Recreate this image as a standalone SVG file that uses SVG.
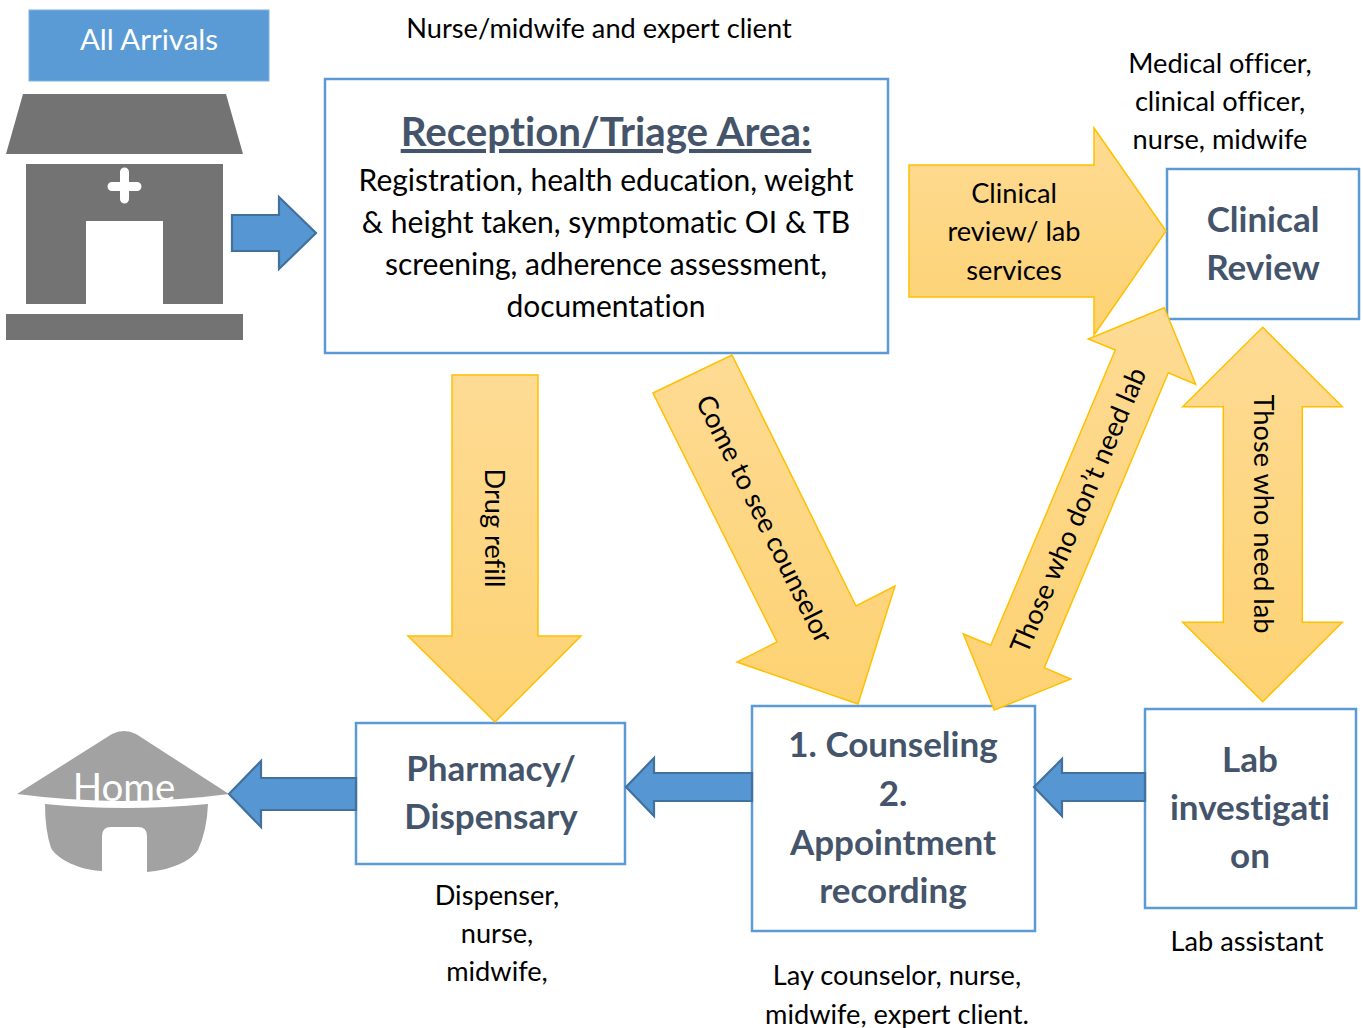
<svg xmlns="http://www.w3.org/2000/svg" width="1363" height="1028" viewBox="0 0 1363 1028">
<style>
text{font-family:"Lato","Liberation Sans",sans-serif;fill:#000;font-variant-ligatures:none}
.m{text-anchor:middle}
.lab{font-size:30px}
.cap{font-size:27.2px}
.h{font-size:35px;font-weight:700;fill:#44546a}
.box{fill:#fff;stroke:#5b9bd5;stroke-width:2.5}
.ya{fill:url(#yg);stroke:#ffc000;stroke-width:1.5}
.ba{fill:#5596d3;stroke:#41719c;stroke-width:2.2}
.g{fill:#737373}
</style>
<defs>
<linearGradient id="yg" x1="0" y1="0" x2="0" y2="1"><stop offset="0" stop-color="#fedb94"/><stop offset="1" stop-color="#fdd272"/></linearGradient>
</defs>
<g id="all-arrivals">
<rect x="29" y="10" width="240" height="71" fill="#5b9bd5" stroke="#7fb2e0" stroke-width="1"/>
<text class="m" x="149" y="50" font-size="29.500" style="fill:#fff">All Arrivals</text>
</g>
<g id="clinic">
<polygon class="g" points="23,94 226,94 243,154 6,154"/>
<path class="g" fill-rule="evenodd" d="M26,164H223V304H163V221H86V304H26Z"/>
<path d="M120,172a4.500,4.500 0 0 1 9,0V182H137a4.500,4.500 0 0 1 0,9H129V199a4.500,4.500 0 0 1 -9,0V191H112a4.500,4.500 0 0 1 0,-9H120Z" fill="#fff"/>
<rect class="g" x="6" y="314" width="237" height="26"/>
</g>
<g id="home">
<path d="M17,794L112,734Q124,728 136,734L229,794Q124,808 17,794Z" fill="#a2a2a2"/>
<path fill-rule="evenodd" d="M45,804Q124,812 208,804Q207,830 198,850C190,862 170,870 147,872V836Q147,827 138,827H111Q102,827 102,836V871C80,870 58,860 51,848Q45,830 45,804Z" fill="#a2a2a2"/>
<text class="m" x="124" y="801" font-size="38.500" style="fill:#fff">Home</text>
</g>
<g id="reception">
<rect class="box" x="325" y="79" width="563" height="274"/>
<text class="m" x="606" y="146" font-size="40.300" font-weight="700" text-decoration="underline" style="fill:#44546a">Reception/Triage Area:</text>
<text class="lab m" x="606" y="191">Registration, health education, weight</text>
<text class="lab m" x="606" y="233">&amp; height taken, symptomatic OI &amp; TB</text>
<text class="lab m" x="606" y="275">screening, adherence assessment,</text>
<text class="lab m" x="606" y="317">documentation</text>
</g>
<g id="clinical-review">
<rect class="box" x="1167" y="169" width="192" height="150"/>
<text class="h m" x="1263" y="232">Clinical</text>
<text class="h m" x="1263" y="280">Review</text>
</g>
<g id="pharmacy">
<rect class="box" x="356" y="723" width="269" height="141"/>
<text class="h m" x="491" y="781">Pharmacy/</text>
<text class="h m" x="491" y="829">Dispensary</text>
</g>
<g id="counseling">
<rect class="box" x="752" y="706" width="283" height="225"/>
<text class="h m" x="893" y="757">1. Counseling</text>
<text class="h m" x="893" y="806">2.</text>
<text class="h m" x="893" y="855">Appointment</text>
<text class="h m" x="893" y="903">recording</text>
</g>
<g id="lab">
<rect class="box" x="1145" y="709" width="211" height="199"/>
<text class="h m" x="1250" y="772">Lab</text>
<text class="h m" x="1250" y="820">investigati</text>
<text class="h m" x="1250" y="868">on</text>
</g>
<g id="connectors">
<polygon class="ba" points="232,215 279,215 279,197 316,233 279,269 279,251 232,251"/>
<polygon class="ba" points="356,778 261,778 261,761 229,794 261,827 261,810 356,810"/>
<polygon class="ba" points="752,773 654,773 654,758 626,787 654,816 654,801 752,801"/>
<polygon class="ba" points="1145,773 1062,773 1062,759 1034,787 1062,816 1062,801 1145,801"/>
<polygon class="ya" points="909,165 1094,165 1094,128 1166,231 1094,335 1094,297 909,297"/>
<polygon class="ya" points="452,375 538,375 538,636 581,636 495,722 408,636 452,636"/>
<polygon class="ya" points="653,393 732,355 856,606 895,586 858,704 737,662 777,642"/>
<polygon class="ya" points="1164.3,307.7 1195.7,384.3 1168.3,372.7 1044.3,667.7 1070.7,679 994.3,710 963.3,634 990.7,645.3 1115.3,350 1088.3,339"/>
<polygon class="ya" points="1262.7,327.3 1342.3,406.7 1302.3,406.7 1302.3,622.3 1342.3,622.3 1262.7,701.7 1182.7,622.3 1223.3,622.3 1223.3,406.7 1182.7,406.7"/>
<text class="cap m" transform="translate(485,528) rotate(90)">Drug refill</text>
<text class="cap m" transform="translate(756,523) rotate(63.500)">Come to see counselor</text>
<text class="cap m" transform="translate(1087,514) rotate(-67)">Those who don’t need lab</text>
<text class="cap m" transform="translate(1254,514) rotate(90)">Those who need lab</text>
<text class="cap m" x="1014" y="203">Clinical</text>
<text class="cap m" x="1014" y="241">review/ lab</text>
<text class="cap m" x="1014" y="280">services</text>
</g>
<g id="captions">
<text class="cap m" x="599" y="38">Nurse/midwife and expert client</text>
<text class="cap m" x="1220" y="73">Medical officer,</text>
<text class="cap m" x="1220" y="111">clinical officer,</text>
<text class="cap m" x="1220" y="149">nurse, midwife</text>
<text class="cap m" x="497" y="905">Dispenser,</text>
<text class="cap m" x="497" y="943">nurse,</text>
<text class="cap m" x="497" y="981">midwife,</text>
<text class="cap m" x="897" y="985">Lay counselor, nurse,</text>
<text class="cap m" x="897" y="1024">midwife, expert client.</text>
<text class="cap m" x="1247" y="951">Lab assistant</text>
</g>
</svg>
